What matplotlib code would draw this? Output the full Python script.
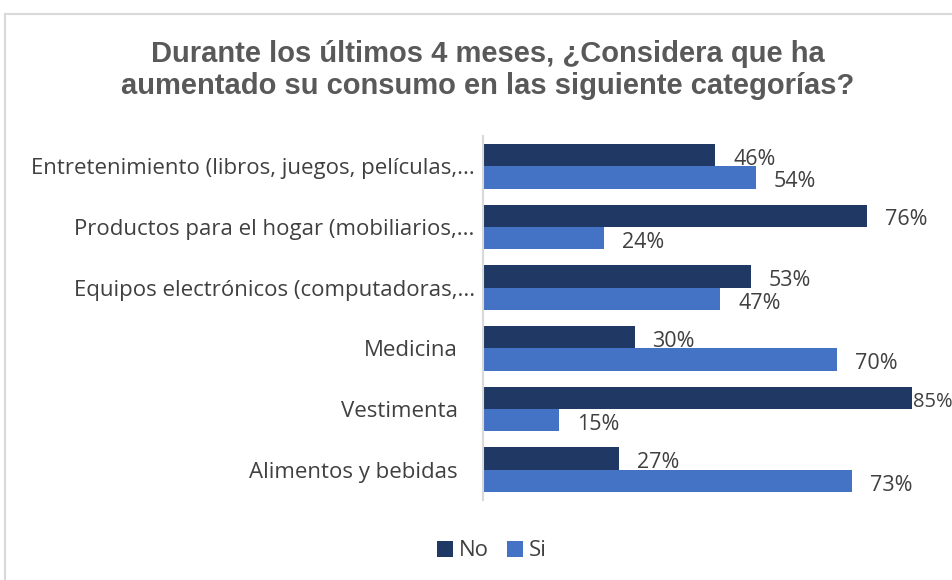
import matplotlib.pyplot as plt
from matplotlib.lines import Line2D
import matplotlib.transforms as mtransforms

# Survey results, listed from top to bottom
categorias = [
    "Entretenimiento (libros, juegos, películas,...",
    "Productos para el hogar (mobiliarios,...",
    "Equipos electrónicos (computadoras,...",
    "Medicina",
    "Vestimenta",
    "Alimentos y bebidas",
]
no_vals = [46, 76, 53, 30, 85, 27]
si_vals = [54, 24, 47, 70, 15, 73]

color_no = "#1F3864"
color_si = "#4472C4"
text_color = "#404040"

fig = plt.figure(figsize=(9.53, 5.80), dpi=100)
ax = fig.add_axes([483 / 953, 1 - 500 / 580, 90 * 5.05 / 953, 364 / 580])

n = len(categorias)
ypos = [n - 1 - i for i in range(n)]
h = 0.37

bars_no = ax.barh([y + h / 2 for y in ypos], no_vals, height=h, color=color_no, label="No")
bars_si = ax.barh([y - h / 2 for y in ypos], si_vals, height=h, color=color_si, label="Si")

xmax = 90
for bars, vals in ((bars_no, no_vals), (bars_si, si_vals)):
    for b, v in zip(bars, vals):
        # labels near the right edge hug the bar end
        if v > 80:
            dx, fs = 0.5, 14.5
        else:
            dx, fs = 13, 15.5
        ax.annotate(f"{v}%", (b.get_width(), b.get_y() + b.get_height() / 2),
                    xytext=(dx, -3), textcoords="offset points", ha="left", va="center",
                    fontsize=fs, color=text_color, family="Open Sans", annotation_clip=False)

ax.set_xlim(0, xmax)
ax.set_ylim(-0.5, n - 0.5)
ax.set_xticks([])
ax.set_yticks(ypos)
ax.set_yticklabels(categorias, fontsize=16, color=text_color, family="Open Sans")
ax.tick_params(axis="y", length=0, pad=6)

# short labels sit a bit further from the axis
for lbl in ax.get_yticklabels():
    if not lbl.get_text().endswith("..."):
        lbl.set_transform(lbl.get_transform() + mtransforms.ScaledTranslation(-17 / 100, 0, fig.dpi_scale_trans))

for s in ("top", "right", "bottom"):
    ax.spines[s].set_visible(False)
ax.spines["left"].set_color("#D9D9D9")
ax.spines["left"].set_linewidth(1.5)

fig.text(488 / 953, 1 - 70 / 580,
         "Durante los últimos 4 meses, ¿Considera que ha\naumentado su consumo en las siguiente categorías?",
         ha="center", va="center", fontsize=21, fontweight="bold", color="#595959",
         family="Liberation Sans", linespacing=1.2)

fig.legend(loc="center", bbox_to_anchor=(492 / 953, 1 - 551 / 580), ncol=2, frameon=False,
           handlelength=0.7, handleheight=0.7, handletextpad=0.3, columnspacing=0.8,
           prop={"family": "Open Sans", "size": 16}, labelcolor=text_color)

# chart frame
fig.add_artist(Line2D([5 / 953, 1], [1 - 14 / 580, 1 - 14 / 580], color="#D9D9D9", lw=1.5))
fig.add_artist(Line2D([5 / 953, 5 / 953], [0, 1 - 14 / 580], color="#D9D9D9", lw=1.5))

fig.savefig("out.png", dpi=100)
